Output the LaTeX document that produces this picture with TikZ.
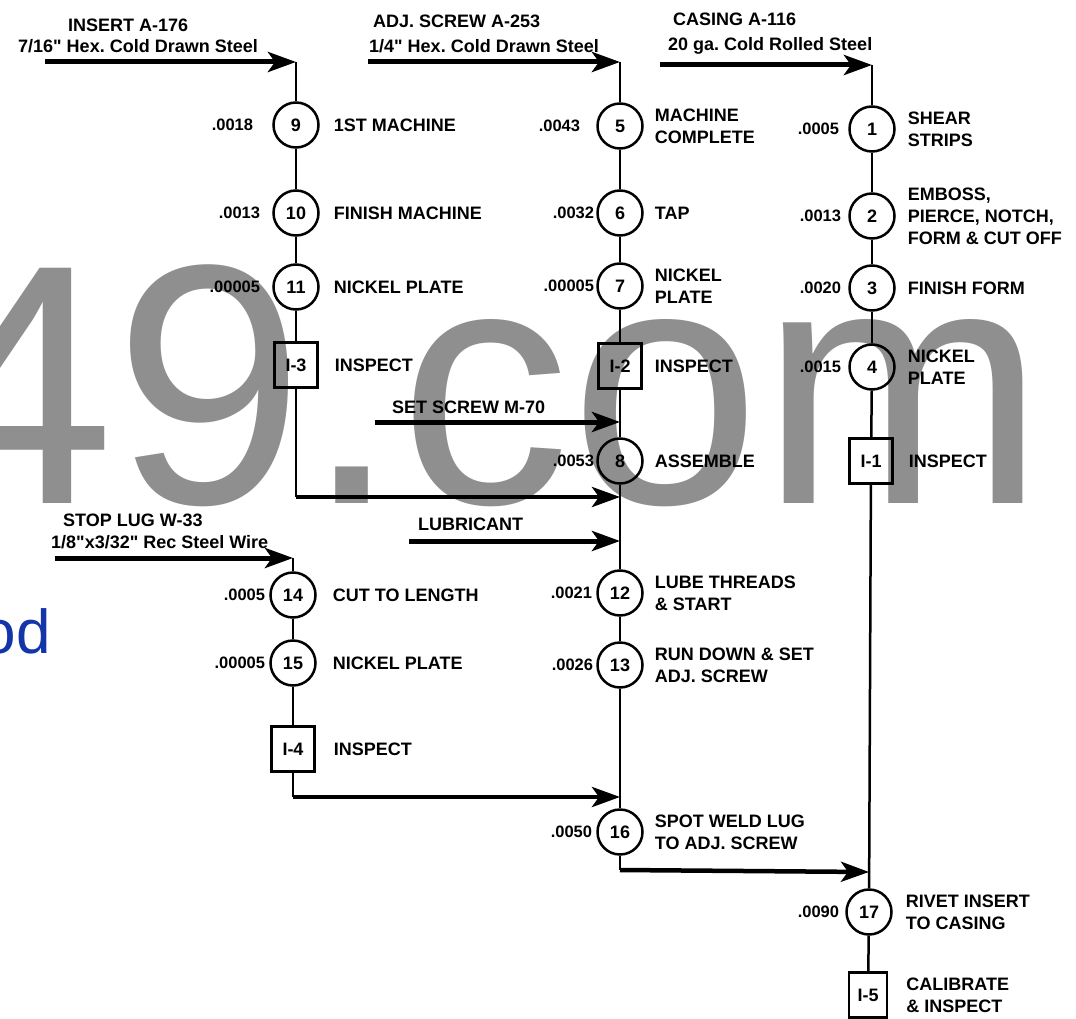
\documentclass[tikz,border=0pt]{standalone}
\usepackage{fontspec}
\setmainfont{Liberation Sans}
\usetikzlibrary{arrows.meta, positioning}
\definecolor{wmgray}{RGB}{143,143,143}
\definecolor{wmblue}{RGB}{20,52,170}
\frenchspacing
\begin{document}
\begin{tikzpicture}[x=1pt, y=-1pt,
    opc/.style={circle, draw, line width=2.5pt, minimum size=45pt, inner sep=0pt, font=\bfseries\fontsize{18}{18}\selectfont},
    insp/.style={rectangle, draw, line width=2.5pt, minimum width=43pt, minimum height=45pt, inner sep=0pt, font=\bfseries\fontsize{18}{18}\selectfont},
    desc/.style={inner sep=0pt, align=left, font=\bfseries\fontsize{18}{22}\selectfont},
    tmu/.style={inner sep=0pt, font=\bfseries\fontsize{16.5}{16.5}\selectfont},
    matl/.style={inner sep=0pt, anchor=west, font=\bfseries\fontsize{18}{18}\selectfont},
    flow/.style={line width=2.5pt},
    feed/.style={line width=5pt, -{Stealth[length=28pt, width=20pt, inset=7pt]}},
    merge/.style={line width=4.5pt, -{Stealth[length=28pt, width=20pt, inset=7pt]}}]
  \useasboundingbox (0,0) rectangle (1076,1019);
  % watermark
  \begin{scope}
    \clip (0,0) rectangle (1076,1019);
    \node[anchor=base west, inner sep=0pt, text=wmgray, font=\fontsize{342}{342}\selectfont] (wm) at (-76,503) {49.com};
    \node[anchor=base west, inner sep=0pt, text=wmblue, font=\fontsize{62}{62}\selectfont] (wmb) at (-18.5,653) {od};
  \end{scope}
  % insert A-176
  \coordinate (s9) at (45,62);
  \coordinate (k9) at (296,62);
  \node[matl] (ins) at (68,25) {INSERT A-176};
  \node[matl] (insm) at (18,46) {7/16\textquotedbl\ Hex. Cold Drawn Steel};
  \node[opc] (c9) at (296,125) {9};
  \node[tmu, left=19pt of c9] {.0018};
  \node[desc, right=14pt of c9] {1ST MACHINE};
  \node[opc] (c10) at (296,213) {10};
  \node[tmu, left=12pt of c10] {.0013};
  \node[desc, right=14pt of c10] {FINISH MACHINE};
  \node[opc] (c11) at (296,287) {11};
  \node[tmu, left=12pt of c11] {.00005};
  \node[desc, right=14pt of c11] {NICKEL PLATE};
  \node[insp] (i3) at (296,365) {I-3};
  \node[desc, right=16pt of i3] {INSPECT};
  \coordinate (k3) at (296,497);
  % adj. screw A-253
  \coordinate (s5) at (368,62);
  \coordinate (k5) at (620,62);
  \node[matl] (adj) at (373,21) {ADJ. SCREW A-253};
  \node[matl] (adjm) at (369,46) {1/4\textquotedbl\ Hex. Cold Drawn Steel};
  \node[opc] (c5) at (620,126) {5};
  \node[tmu, left=16pt of c5] {.0043};
  \node[desc, right=11pt of c5] {MACHINE\\COMPLETE};
  \node[opc] (c6) at (620,213) {6};
  \node[tmu, left=2pt of c6] {.0032};
  \node[desc, right=11pt of c6] {TAP};
  \node[opc] (c7) at (620,286) {7};
  \node[tmu, left=2pt of c7] {.00005};
  \node[desc, right=11pt of c7] {NICKEL\\PLATE};
  \node[insp] (i2) at (620,366) {I-2};
  \node[desc, right=12pt of i2] {INSPECT};
  \coordinate (s8) at (375,422);
  \coordinate (m8) at (620,422);
  \node[matl] (set) at (392,407) {SET SCREW M-70};
  \node[opc] (c8) at (620,461) {8};
  \node[tmu, left=2pt of c8] {.0053};
  \node[desc, right=11pt of c8] {ASSEMBLE};
  \coordinate (m3) at (620,497);
  \coordinate (sl) at (409,541);
  \coordinate (ml) at (620,541);
  \node[matl] (lub) at (418,524) {LUBRICANT};
  \node[opc] (c12) at (620,593) {12};
  \node[tmu, left=4pt of c12] {.0021};
  \node[desc, right=11pt of c12] {LUBE THREADS\\\& START};
  \node[opc] (c13) at (620,665) {13};
  \node[tmu, left=3pt of c13] {.0026};
  \node[desc, right=11pt of c13] {RUN DOWN \& SET\\ADJ. SCREW};
  \coordinate (m4) at (620,797);
  \node[opc] (c16) at (620,832) {16};
  \node[tmu, left=4pt of c16] {.0050};
  \node[desc, right=11pt of c16] {SPOT WELD LUG\\TO ADJ. SCREW};
  \coordinate (k16) at (620,870);
  % stop lug W-33
  \coordinate (s14) at (55,558);
  \coordinate (k14) at (293,558);
  \node[matl] (lug) at (63,520) {STOP LUG W-33};
  \node[matl] (lugm) at (51,542) {1/8\textquotedbl x3/32\textquotedbl\ Rec Steel Wire};
  \node[opc] (c14) at (293,595) {14};
  \node[tmu, left=4pt of c14] {.0005};
  \node[desc, right=16pt of c14] {CUT TO LENGTH};
  \node[opc] (c15) at (293,663) {15};
  \node[tmu, left=4pt of c15] {.00005};
  \node[desc, right=16pt of c15] {NICKEL PLATE};
  \node[insp] (i4) at (293,749) {I-4};
  \node[desc, right=18pt of i4] {INSPECT};
  \coordinate (k4) at (293,797);
  % casing A-116
  \coordinate (s1) at (660,65);
  \coordinate (k1) at (872,65);
  \node[matl] (cas) at (673,19) {CASING A-116};
  \node[matl] (casm) at (668,46) {20 ga. Cold Rolled Steel};
  \node[opc] (c1) at (872,129) {1};
  \node[tmu, left=9pt of c1] {.0005};
  \node[desc, right=12pt of c1] {SHEAR\\STRIPS};
  \node[opc] (c2) at (872,216) {2};
  \node[tmu, left=7pt of c2] {.0013};
  \node[desc, right=12pt of c2] {EMBOSS,\\PIERCE, NOTCH,\\FORM \& CUT OFF};
  \node[opc] (c3) at (872,288) {3};
  \node[tmu, left=7pt of c3] {.0020};
  \node[desc, right=12pt of c3] {FINISH FORM};
  \node[opc] (c4) at (872,367) {4};
  \node[tmu, left=7pt of c4] {.0015};
  \node[desc, right=12pt of c4] {NICKEL\\PLATE};
  \node[insp] (i1) at (871,461) {I-1};
  \node[desc, right=15pt of i1] {INSPECT};
  \coordinate (m17) at (869,872);
  \node[opc] (c17) at (869,912) {17};
  \node[tmu, left=6pt of c17] {.0090};
  \node[desc, right=13pt of c17] {RIVET INSERT\\TO CASING};
  \node[insp, minimum width=38pt] (i5) at (868,995) {I-5};
  \node[desc, right=18pt of i5] {CALIBRATE\\\& INSPECT};
  % material feeds
  \draw[feed] (s9) -- (k9);
  \draw[feed] (s5) -- (k5);
  \draw[feed] (s1) -- (k1);
  \draw[feed] (s14) -- (k14);
  \draw[feed] (s8) -- (m8);
  \draw[feed] (sl) -- (ml);
  % flow lines
  \draw[flow] (k9) -- (c9);
  \draw[flow] (c9) -- (c10);
  \draw[flow] (c10) -- (c11);
  \draw[flow] (c11) -- (i3);
  \draw[flow] (i3) -- (k3);
  \draw[merge] (k3) -- (m3);
  \draw[flow] (k5) -- (c5);
  \draw[flow] (c5) -- (c6);
  \draw[flow] (c6) -- (c7);
  \draw[flow] (c7) -- (i2);
  \draw[flow] (i2) -- (c8);
  \draw[flow] (c8) -- (c12);
  \draw[flow] (c12) -- (c13);
  \draw[flow] (c13) -- (c16);
  \draw[flow] (c16) -- (k16);
  \draw[merge] (k16) -- (m17);
  \draw[flow] (k14) -- (c14);
  \draw[flow] (c14) -- (c15);
  \draw[flow] (c15) -- (i4);
  \draw[flow] (i4) -- (k4);
  \draw[merge] (k4) -- (m4);
  \draw[flow] (k1) -- (c1);
  \draw[flow] (c1) -- (c2);
  \draw[flow] (c2) -- (c3);
  \draw[flow] (c3) -- (c4);
  \draw[flow] (c4) -- (i1);
  \draw[flow] (i1) -- (c17);
  \draw[flow] (c17) -- (i5);
\end{tikzpicture}
\end{document}
